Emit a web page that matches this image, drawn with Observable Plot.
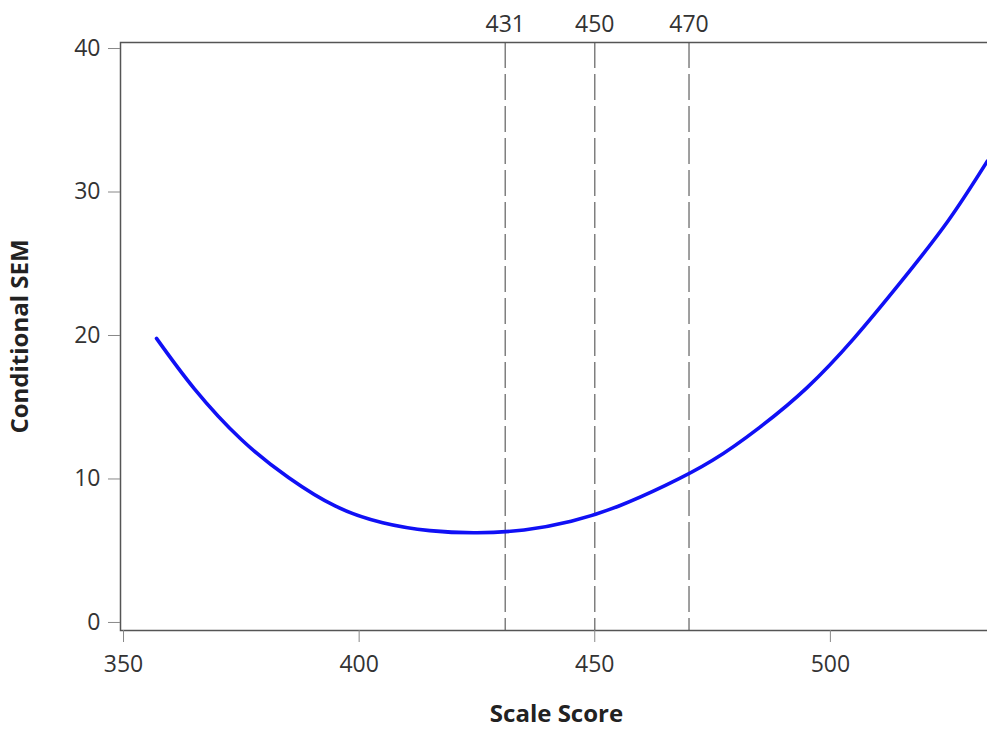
<!DOCTYPE html>
<html>
<head>
<meta charset="utf-8">
<script src="https://cdn.jsdelivr.net/npm/d3@7"></script>
<script src="https://cdn.jsdelivr.net/npm/@observablehq/plot@0.6"></script>
<style>
  html, body { margin: 0; padding: 0; background: #fff; overflow: hidden; }
  #chart { width: 995px; }
</style>
</head>
<body>
<div id="chart"></div>
<script>
// Curve
const scaleScore = [357, 365, 375, 385, 395, 405, 415, 425, 435, 445, 455, 465, 475, 485, 495, 505, 515, 525, 533.3];
const condSEM    = [19.8, 16.3, 12.75, 10.1, 8.1, 6.95, 6.4, 6.25, 6.45, 7.05, 8.1, 9.55, 11.3, 13.6, 16.35, 19.8, 23.75, 28.0, 32.15];
const cutScores = [431, 450, 470];
const xTicks = [350, 400, 450, 500];
const yTicks = [0, 10, 20, 30, 40];

const data = scaleScore.map((s, i) => ({s, v: condSEM[i]}));

const chart = Plot.plot({
  width: 995,
  height: 731,
  marginLeft: 120,
  marginRight: 3,
  marginTop: 42,
  marginBottom: 101,
  style: {fontFamily: "'Open Sans', sans-serif", fontSize: "23px", color: "#333", background: "#fff"},
  x: {domain: [349.36, 534.4]},
  y: {domain: [-0.56, 40.42]},
  marks: [
    Plot.ruleX(cutScores, {stroke: "#777", strokeWidth: 1.4, strokeDasharray: "26,6"}),
    Plot.line(data, {x: "s", y: "v", stroke: "#1010f5", strokeWidth: 3.6, curve: "natural"}),
    Plot.frame({stroke: "#555", strokeWidth: 1.5}),
    Plot.axisX({ticks: xTicks, tickSize: 12, tickPadding: 13, tickFormat: d => String(d), label: null, stroke: "#888"}),
    Plot.axisX({anchor: "top", ticks: cutScores, tickSize: 0, tickPadding: 11, tickFormat: d => String(d), label: null}),
    Plot.axisY({ticks: yTicks, tickSize: 12, tickPadding: 8, tickFormat: d => String(d), label: null, stroke: "#888"}),
    Plot.text(["Scale Score"], {frameAnchor: "bottom", dy: 91, fontWeight: "bold", fontSize: 24, fill: "#222"}),
    Plot.text(["Conditional SEM"], {frameAnchor: "left", textAnchor: "middle", dx: -100, rotate: -90, fontWeight: "bold", fontSize: 24, fill: "#222"})
  ]
});
document.getElementById("chart").append(chart);
</script>
</body>
</html>
